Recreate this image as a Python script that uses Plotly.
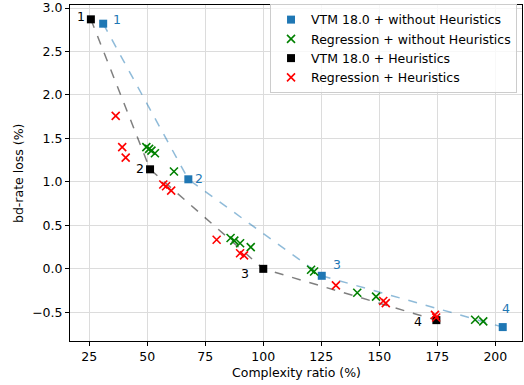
import plotly.graph_objects as go

# VTM 18.0 + without Heuristics
vtm_x = [31.0, 67.7, 125.2, 203.2]
vtm_y = [2.82, 1.03, -0.08, -0.67]
vtm_labels = ["1", "2", "3", "4"]

# VTM 18.0 + Heuristics
vtmh_x = [25.7, 51.2, 100.0, 174.6]
vtmh_y = [2.87, 1.145, 0.0, -0.59]
vtmh_labels = ["1", "2", "3", "4"]

# Regression + without Heuristics
reg_x = [49.6, 50.8, 51.8, 53.3, 61.5, 85.9, 87.5, 90.0, 94.6, 120.6, 121.9, 140.5, 148.6, 191.3, 194.8]
reg_y = [1.40, 1.38, 1.36, 1.33, 1.12, 0.355, 0.325, 0.295, 0.25, -0.01, -0.03, -0.275, -0.32, -0.585, -0.605]

# Regression + Heuristics
regh_x = [36.4, 39.2, 40.7, 56.9, 58.1, 60.3, 79.9, 90.0, 91.7, 131.3, 151.7, 152.8, 174.0, 174.5]
regh_y = [1.76, 1.40, 1.28, 0.97, 0.95, 0.90, 0.335, 0.18, 0.155, -0.19, -0.37, -0.395, -0.53, -0.56]

x_ticks = [25, 50, 75, 100, 125, 150, 175, 200]
y_ticks = [-0.5, 0, 0.5, 1.0, 1.5, 2.0, 2.5, 3.0]
y_ticktext = ["\u22120.5", "0.0", "0.5", "1.0", "1.5", "2.0", "2.5", "3.0"]

BLUE = "#1f77b4"
FONT = "DejaVu Sans"
FS = 12.5

fig = go.Figure()
fig.add_trace(go.Scatter(x=vtm_x, y=vtm_y, mode="lines", showlegend=False, hoverinfo="skip",
                         line=dict(color="rgba(31,119,180,0.5)", dash="dash", width=1.5)))
fig.add_trace(go.Scatter(x=vtmh_x, y=vtmh_y, mode="lines", showlegend=False, hoverinfo="skip",
                         line=dict(color="rgba(0,0,0,0.5)", dash="dash", width=1.5)))

fig.add_trace(go.Scatter(x=vtm_x, y=vtm_y, mode="markers", name="VTM 18.0 + without Heuristics",
                         marker=dict(symbol="square", size=8, color=BLUE)))
fig.add_trace(go.Scatter(x=reg_x, y=reg_y, mode="markers", name="Regression + without Heuristics",
                         marker=dict(symbol="x-thin", size=8, color="green", line=dict(color="green", width=1.6))))
fig.add_trace(go.Scatter(x=vtmh_x, y=vtmh_y, mode="markers", name="VTM 18.0 + Heuristics",
                         marker=dict(symbol="square", size=8, color="black")))
fig.add_trace(go.Scatter(x=regh_x, y=regh_y, mode="markers", name="Regression + Heuristics",
                         marker=dict(symbol="x-thin", size=8, color="red", line=dict(color="red", width=1.6))))

blue_shift = [(14, 4), (11, 1), (15, 11), (3, 19)]
black_shift = [(-10, 3), (-10, 1), (-18, -5), (-18, -1)]
for x, y, t, (dx, dy) in zip(vtm_x, vtm_y, vtm_labels, blue_shift):
    fig.add_annotation(x=x, y=y, text=t, showarrow=False, xshift=dx, yshift=dy,
                       font=dict(family=FONT, size=FS, color=BLUE))
for x, y, t, (dx, dy) in zip(vtmh_x, vtmh_y, vtmh_labels, black_shift):
    fig.add_annotation(x=x, y=y, text=t, showarrow=False, xshift=dx, yshift=dy,
                       font=dict(family=FONT, size=FS, color="black"))

# axis titles
fig.add_annotation(xref="paper", yref="paper", x=0.5, y=-0.095, yanchor="middle", xanchor="center",
                   text="Complexity ratio (%)", showarrow=False,
                   font=dict(family=FONT, size=FS, color="black"))
fig.add_annotation(xref="paper", yref="paper", x=-0.115, y=0.5, yanchor="middle", xanchor="center",
                   text="bd-rate loss (%)", textangle=-90, showarrow=False,
                   font=dict(family=FONT, size=FS, color="black"))

axis_common = dict(showline=True, linecolor="black", linewidth=1, mirror=True,
                   ticks="outside", ticklen=4, tickcolor="black", automargin=False,
                   showgrid=True, gridcolor="#dcdcdc", gridwidth=1, zeroline=False,
                   tickfont=dict(family=FONT, size=FS, color="black"))

fig.update_xaxes(range=[16.7, 211.5], tickvals=x_ticks, **axis_common)
fig.update_yaxes(range=[-0.83, 3.035], tickvals=y_ticks, ticktext=y_ticktext, **axis_common)

fig.update_layout(
    width=524, height=385,
    margin=dict(l=70, r=2, t=5, b=44),
    paper_bgcolor="white", plot_bgcolor="white",
    font=dict(family=FONT, size=FS, color="black"),
    legend=dict(x=0.989, y=1.003, xanchor="right", yanchor="top",
                bgcolor="rgba(255,255,255,0.8)", bordercolor="#cccccc", borderwidth=1,
                font=dict(family=FONT, size=FS), itemsizing="trace",
                tracegroupgap=0),
)

fig.write_html("out.html", config={"displayModeBar": False},
               post_script="document.body.style.margin='0px';")
